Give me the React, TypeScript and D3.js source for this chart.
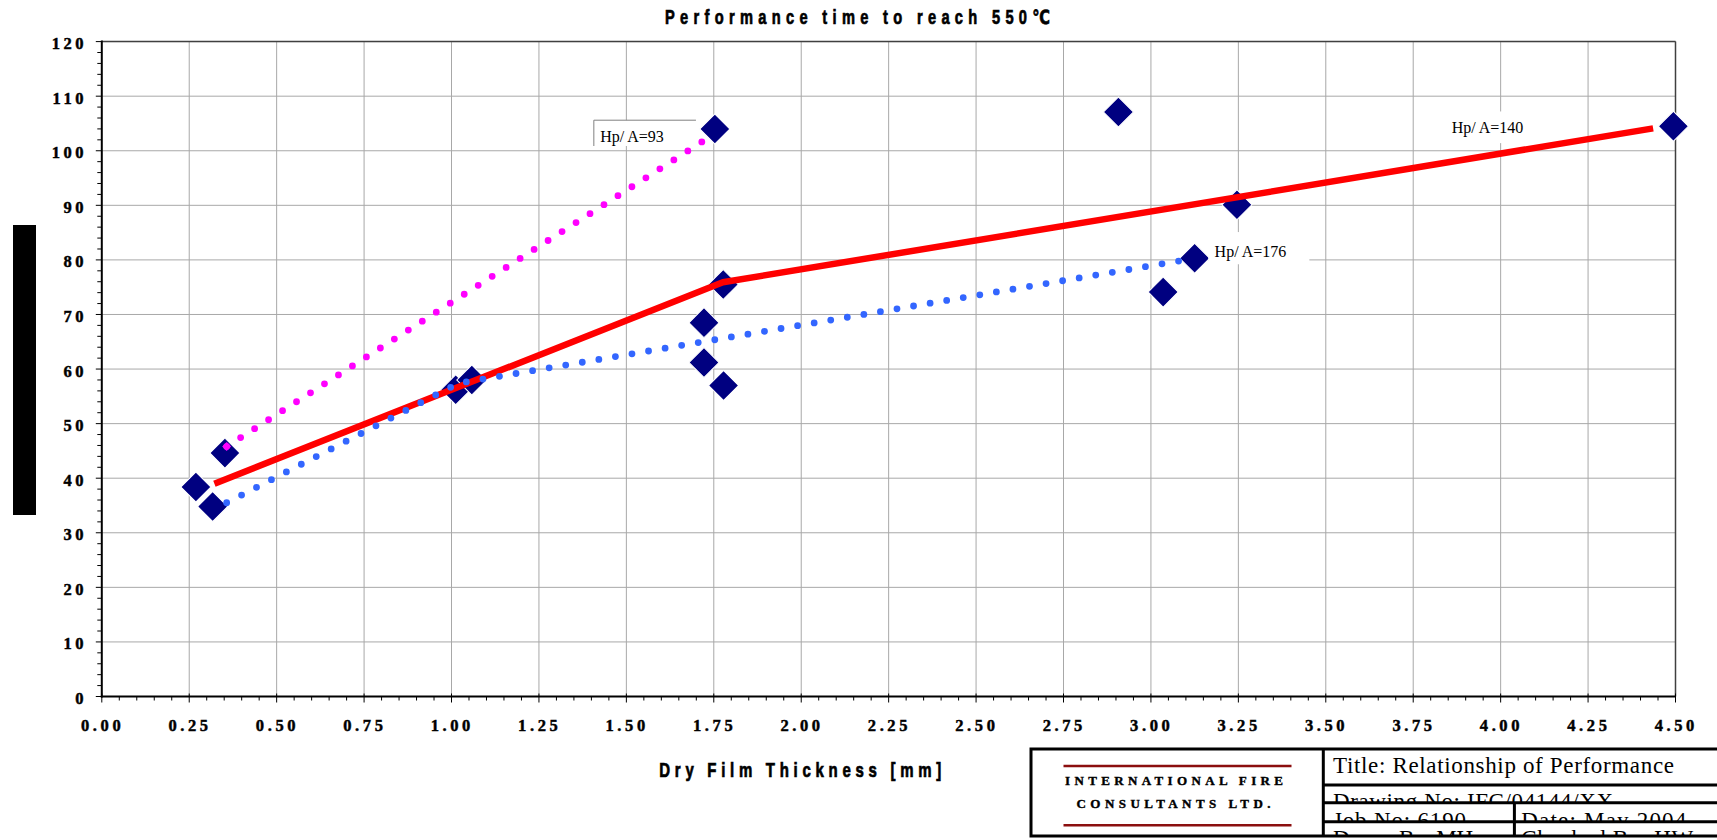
import React from "react";
import * as d3 from "d3";

// ---------- data ----------
const xTickLabels = ["0.00", "0.25", "0.50", "0.75", "1.00", "1.25", "1.50", "1.75", "2.00", "2.25", "2.50", "2.75", "3.00", "3.25", "3.50", "3.75", "4.00", "4.25", "4.50"];
const yTickLabels = [0, 10, 20, 30, 40, 50, 60, 70, 80, 90, 100, 110, 120];

// measured test points (Dry film thickness [mm], time [min])
const testThickness = [0.269, 0.317, 0.352, 1.012, 1.058, 1.722, 1.722, 1.778, 1.753, 1.777, 2.907, 3.035, 3.125, 3.246, 4.494];
const testTime = [38.4, 34.8, 44.6, 56.2, 58.0, 68.5, 61.2, 57.0, 104.0, 75.5, 107.1, 74.1, 80.3, 90.1, 104.5];

// Hp/A = 140 (solid red)
const hp140X = [0.322, 1.776, 4.436];
const hp140Y = [39.0, 75.9, 104.1];
// Hp/A = 93 (dotted magenta)
const hp93X = [0.357, 1.735];
const hp93Y = [45.8, 102.4];
// Hp/A = 176 (dotted blue)
const hp176X = [0.357, 1.02, 3.08];
const hp176Y = [35.5, 57.4, 79.8];

const labelTexts = ["Hp/ A=93", "Hp/ A=140", "Hp/ A=176"];

const chartTitle = "Performance time to reach 550℃";
const xAxisTitle = "Dry Film Thickness [mm]";

const companyLines = ["INTERNATIONAL FIRE", "CONSULTANTS LTD."];
const blockTexts = [
  "Title: Relationship of Performance",
  "Drawing No: IFC/04144/XX",
  "Job No: 6190",
  "Date: May 2004",
  "Drawn By: MH",
  "Checked By: HW",
];

// ---------- layout ----------
const W = 1717;
const H = 840;
const PL = 101.8;
const PR = 1675.5;
const PT = 41.6;
const PB = 696.5;

const SERIF = "'Liberation Serif', 'Times New Roman', serif";
const SANS = "'Liberation Sans', Arial, 'DejaVu Sans', sans-serif";
const SQ = 0.75; // horizontal squeeze of the sans-serif titles

export default function App() {
  const x = d3.scaleLinear().domain([0, 4.5]).range([PL, PR]);
  const y = d3.scaleLinear().domain([0, 120]).range([PB, PT]);
  const xMajor = xTickLabels.map((t) => +t);
  const xMinor = x.ticks(90);
  const yMinor = y.ticks(60);

  const mkLine = (xs: number[], ys: number[]) =>
    d3
      .line<number>()
      .x((d) => x(d))
      .y((_, i) => y(ys[i]))(xs) || "";

  const diamond = d3.symbol().type(d3.symbolSquare).size(450)() || "";
  const smallDiamond = d3.symbol().type(d3.symbolSquare).size(40)() || "";

  const LS = 3.6; // letter spacing of tick labels

  // title block geometry
  const bL = 1031, bT = 749, bB = 836, bDiv = 1323.3, bDiv2 = 1514.4;
  const r1 = 785, r2 = 802.7, r3 = 821.7;
  const cells = [
    { x0: bDiv, x1: 1717, y0: bT, y1: r1, tx: 1333, base: 772.5, len: 341 },
    { x0: bDiv, x1: 1717, y0: r1, y1: r2, tx: 1333, base: 808.6, len: 280 },
    { x0: bDiv, x1: bDiv2, y0: r2, y1: r3, tx: 1333, base: 828, len: 133 },
    { x0: bDiv2, x1: 1717, y0: r2, y1: r3, tx: 1521.3, base: 828, len: 165 },
    { x0: bDiv, x1: bDiv2, y0: r3, y1: bB, tx: 1333, base: 846.3, len: 140 },
    { x0: bDiv2, x1: 1717, y0: r3, y1: bB, tx: 1521.3, base: 846.3, len: 172 },
  ];

  return (
    <svg
      width={W}
      height={H}
      viewBox={`0 0 ${W} ${H}`}
      style={{ position: "absolute", left: 0, top: 0, display: "block", background: "#fff" }}
    >
      <defs>
        {cells.map((c, i) => (
          <clipPath id={`cell${i}`} key={i}>
            <rect x={c.x0} y={c.y0} width={c.x1 - c.x0} height={c.y1 - c.y0} />
          </clipPath>
        ))}
      </defs>
      <rect x={0} y={0} width={W} height={H} fill="#fff" />

      {/* title */}
      <g transform={`scale(${SQ},1)`}>
        <text
          x={665 / SQ}
          y={24}
          fontFamily={SANS}
          fontWeight="bold"
          fontSize={19.5}
          textLength={385 / SQ}
          lengthAdjust="spacing"
          fill="#000"
          stroke="#000"
          strokeWidth={0.7}
        >
          {chartTitle}
        </text>
      </g>

      {/* gridlines */}
      <g stroke="#a8a8a8" strokeWidth={1}>
        {xMajor.slice(1).map((v) => (
          <line key={"gx" + v} x1={x(v)} x2={x(v)} y1={PT} y2={PB} />
        ))}
        {yTickLabels.slice(1).map((v) => (
          <line key={"gy" + v} x1={PL} x2={PR} y1={y(v)} y2={y(v)} />
        ))}
      </g>
      <line x1={PL} x2={PR} y1={PT} y2={PT} stroke="#404040" strokeWidth={1.5} />
      <line x1={PR} x2={PR} y1={PT} y2={PB} stroke="#404040" strokeWidth={1.5} />

      {/* test points */}
      <g fill="#000080" stroke="#fff" strokeWidth={1}>
        {testThickness.map((t, i) => (
          <path
            key={"d" + i}
            d={diamond}
            transform={`translate(${x(t)},${y(testTime[i])}) rotate(45)`}
          />
        ))}
      </g>

      {/* lines */}
      <path d={mkLine(hp140X, hp140Y)} fill="none" stroke="#ff0000" strokeWidth={6.5} strokeLinejoin="round" />
      <path
        d={mkLine(hp93X, hp93Y)}
        fill="none"
        stroke="#ff00ff"
        strokeWidth={6.8}
        strokeLinecap="round"
        strokeDasharray="0 16.6"
      />
      <path
        d={smallDiamond}
        fill="#ff00ff"
        transform={`translate(${x(hp93X[0])},${y(hp93Y[0])}) rotate(45)`}
      />
      <path
        d={mkLine(hp176X, hp176Y)}
        fill="none"
        stroke="#3366ff"
        strokeWidth={6.8}
        strokeLinecap="round"
        strokeDasharray="0 16.8"
      />

      {/* labels */}
      <g fontFamily={SERIF} fontSize={16} fill="#000">
        {/* Hp/A=93 box */}
        <rect x={x(1.407)} y={y(105.6)} width={x(1.699) - x(1.407)} height={y(100.87) - y(105.6)} fill="#fff" />
        <path
          d={`M${x(1.407)},${y(100.87)} V${y(105.6)} H${x(1.699)}`}
          fill="none"
          stroke="#808080"
          strokeWidth={1}
        />
        <text x={x(1.425)} y={y(101.6)}>{labelTexts[0]}</text>

        {/* Hp/A=140 */}
        <rect x={x(3.828)} y={y(107.2)} width={x(4.1) - x(3.828)} height={y(101.4) - y(107.2)} fill="#fff" />
        <text x={x(3.86)} y={y(103.2)}>{labelTexts[1]}</text>

        {/* Hp/A=176 */}
        <rect x={x(3.164)} y={y(85.1)} width={x(3.453) - x(3.164)} height={y(79.2) - y(85.1)} fill="#fff" />
        <text x={x(3.182)} y={y(80.6)}>{labelTexts[2]}</text>
      </g>

      {/* axes */}
      <g stroke="#000">
        <line x1={PL} x2={PL} y1={PT - 1} y2={PB + 1} strokeWidth={2} />
        <line x1={PL - 1} x2={PR} y1={PB} y2={PB} strokeWidth={2} />
        {yMinor.map((v) => (
          <line key={"ym" + v} x1={PL - (v % 10 === 0 ? 6 : 4.5)} x2={PL} y1={y(v)} y2={y(v)} strokeWidth={1} />
        ))}
        {xMinor.map((v, i) => (
          <line
            key={"xm" + i}
            x1={x(v)}
            x2={x(v)}
            y1={PB - (i % 5 === 0 ? 3 : 0)}
            y2={PB + (i % 5 === 0 ? 6 : 4)}
            strokeWidth={1}
          />
        ))}
      </g>

      {/* tick labels */}
      <g
        fontFamily={SERIF}
        fontWeight="bold"
        fontSize={16.5}
        fill="#000"
        stroke="#000"
        strokeWidth={0.45}
        letterSpacing={LS}
      >
        {yTickLabels.map((v) => (
          <text key={"yl" + v} x={83.6 + LS} y={y(v) + 7.5} textAnchor="end">
            {v}
          </text>
        ))}
        {xTickLabels.map((t) => (
          <text key={"xl" + t} x={x(+t) + LS / 2 - 1} y={731.3} textAnchor="middle">
            {t}
          </text>
        ))}
      </g>

      {/* x axis title */}
      <g transform={`scale(${SQ},1)`}>
        <text
          x={659.3 / SQ}
          y={776.7}
          fontFamily={SANS}
          fontWeight="bold"
          fontSize={20}
          textLength={282 / SQ}
          lengthAdjust="spacing"
          fill="#000"
          stroke="#000"
          strokeWidth={0.7}
        >
          {xAxisTitle}
        </text>
      </g>

      {/* black bar at left */}
      <rect x={13} y={225} width={23} height={290} fill="#000" />

      {/* title block */}
      <g>
        <rect x={bL} y={bT} width={W - bL + 10} height={bB - bT} fill="#fff" />
        <line x1={1063.5} x2={1291.5} y1={766} y2={766} stroke="#8b0f0f" strokeWidth={2.5} />
        <line x1={1063.5} x2={1291.5} y1={825.3} y2={825.3} stroke="#8b0f0f" strokeWidth={2.5} />
        <g fontFamily={SERIF} fontWeight="bold" fontSize={13} fill="#000" stroke="#000" strokeWidth={0.4}>
          <text x={1065} y={784.5} textLength={218} lengthAdjust="spacing">{companyLines[0]}</text>
          <text x={1076.5} y={808} textLength={194} lengthAdjust="spacing">{companyLines[1]}</text>
        </g>
        <g fontFamily={SERIF} fontSize={23} fill="#000">
          {cells.map((c, i) => (
            <g key={"c" + i} clipPath={`url(#cell${i})`}>
              <text x={c.tx} y={c.base} textLength={c.len} lengthAdjust="spacing">
                {blockTexts[i]}
              </text>
            </g>
          ))}
        </g>
        <g stroke="#000" strokeWidth={3} fill="none">
          <rect x={bL} y={bT} width={W - bL + 10} height={bB - bT} />
          <line x1={bDiv} x2={bDiv} y1={bT} y2={bB} />
          <line x1={bDiv} x2={W + 5} y1={r1} y2={r1} />
          <line x1={bDiv} x2={W + 5} y1={r2} y2={r2} />
          <line x1={bDiv} x2={W + 5} y1={r3} y2={r3} />
          <line x1={bDiv2} x2={bDiv2} y1={r2} y2={bB} />
        </g>
      </g>
    </svg>
  );
}
